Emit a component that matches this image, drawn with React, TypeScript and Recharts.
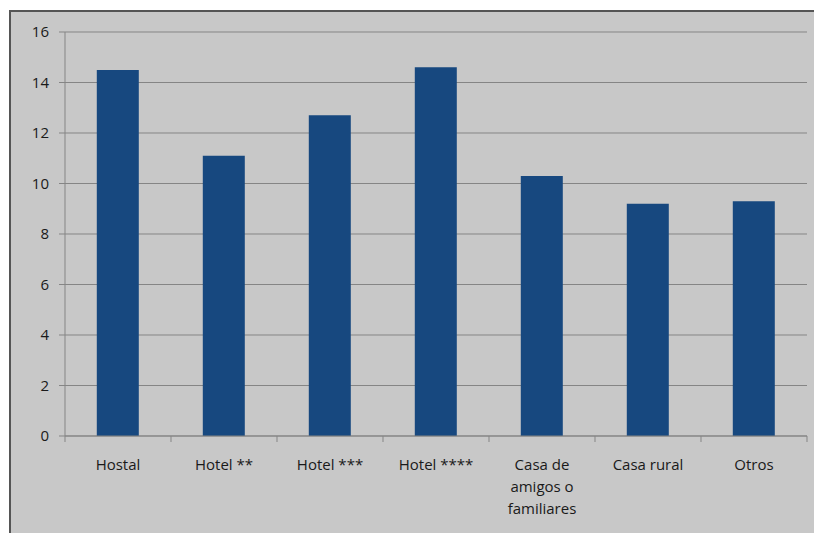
import React from "react";
import { BarChart, Bar, XAxis, YAxis, CartesianGrid } from "recharts";

const categories = [
  "Hostal",
  "Hotel **",
  "Hotel ***",
  "Hotel ****",
  "Casa de\namigos o\nfamiliares",
  "Casa rural",
  "Otros",
];
const values = [14.5, 11.1, 12.7, 14.6, 10.3, 9.2, 9.3];
const yTicks = [0, 2, 4, 6, 8, 10, 12, 14, 16];

const data = categories.map((name, i) => ({ name, value: values[i] }));

const FONT = "'Open Sans', sans-serif";
const GRID = "#858585";
const TICK_SIZE = 6;
const TICK_MARGIN = 8;

// category labels, plus the small tick marks on the boundaries between categories
function CategoryTick(props: any) {
  const { x, y, payload, index } = props;
  const lines = String(payload.value).split("\n");
  const half = payload.offset ?? 53;
  const axisY = y - TICK_SIZE - TICK_MARGIN;
  return (
    <g>
      <line x1={x - half} x2={x - half} y1={axisY} y2={axisY + TICK_SIZE} stroke={GRID} />
      {index === categories.length - 1 && (
        <line x1={x + half} x2={x + half} y1={axisY} y2={axisY + TICK_SIZE} stroke={GRID} />
      )}
      <text x={x} y={y} textAnchor="middle" fontFamily={FONT} fontSize={15} fill="#1a1a1a">
        {lines.map((l, i) => (
          <tspan key={i} x={x} dy={i === 0 ? 20 : 22}>
            {l}
          </tspan>
        ))}
      </text>
    </g>
  );
}

export default function App() {
  return (
    <div style={{ position: "fixed", left: 0, top: 0, width: 814, height: 533, background: "#fff" }}>
      <div
        style={{
          position: "absolute",
          left: 9,
          top: 10,
          right: 0,
          bottom: 0,
          background: "#c8c8c8",
          borderLeft: "2px solid #555",
          borderTop: "2px solid #555",
          boxSizing: "border-box",
        }}
      />
      <div style={{ position: "absolute", left: 0, top: 0 }}>
        <BarChart
          width={814}
          height={533}
          data={data}
          margin={{ top: 32, right: 7, bottom: 0, left: 0 }}
          barCategoryGap="30%"
        >
          <CartesianGrid vertical={false} stroke={GRID} strokeWidth={1} />
          <XAxis
            dataKey="name"
            height={97}
            axisLine={{ stroke: GRID }}
            tickLine={false}
            tickSize={TICK_SIZE}
            tickMargin={TICK_MARGIN}
            tick={<CategoryTick />}
            interval={0}
          />
          <YAxis
            width={65}
            domain={[0, 16]}
            ticks={yTicks}
            axisLine={{ stroke: GRID }}
            tickLine={{ stroke: GRID }}
            tickSize={6}
            tickMargin={10}
            tick={{ fontFamily: FONT, fontSize: 15, fill: "#1a1a1a" }}
          />
          <Bar dataKey="value" fill="#17487f" isAnimationActive={false} />
        </BarChart>
      </div>
    </div>
  );
}
